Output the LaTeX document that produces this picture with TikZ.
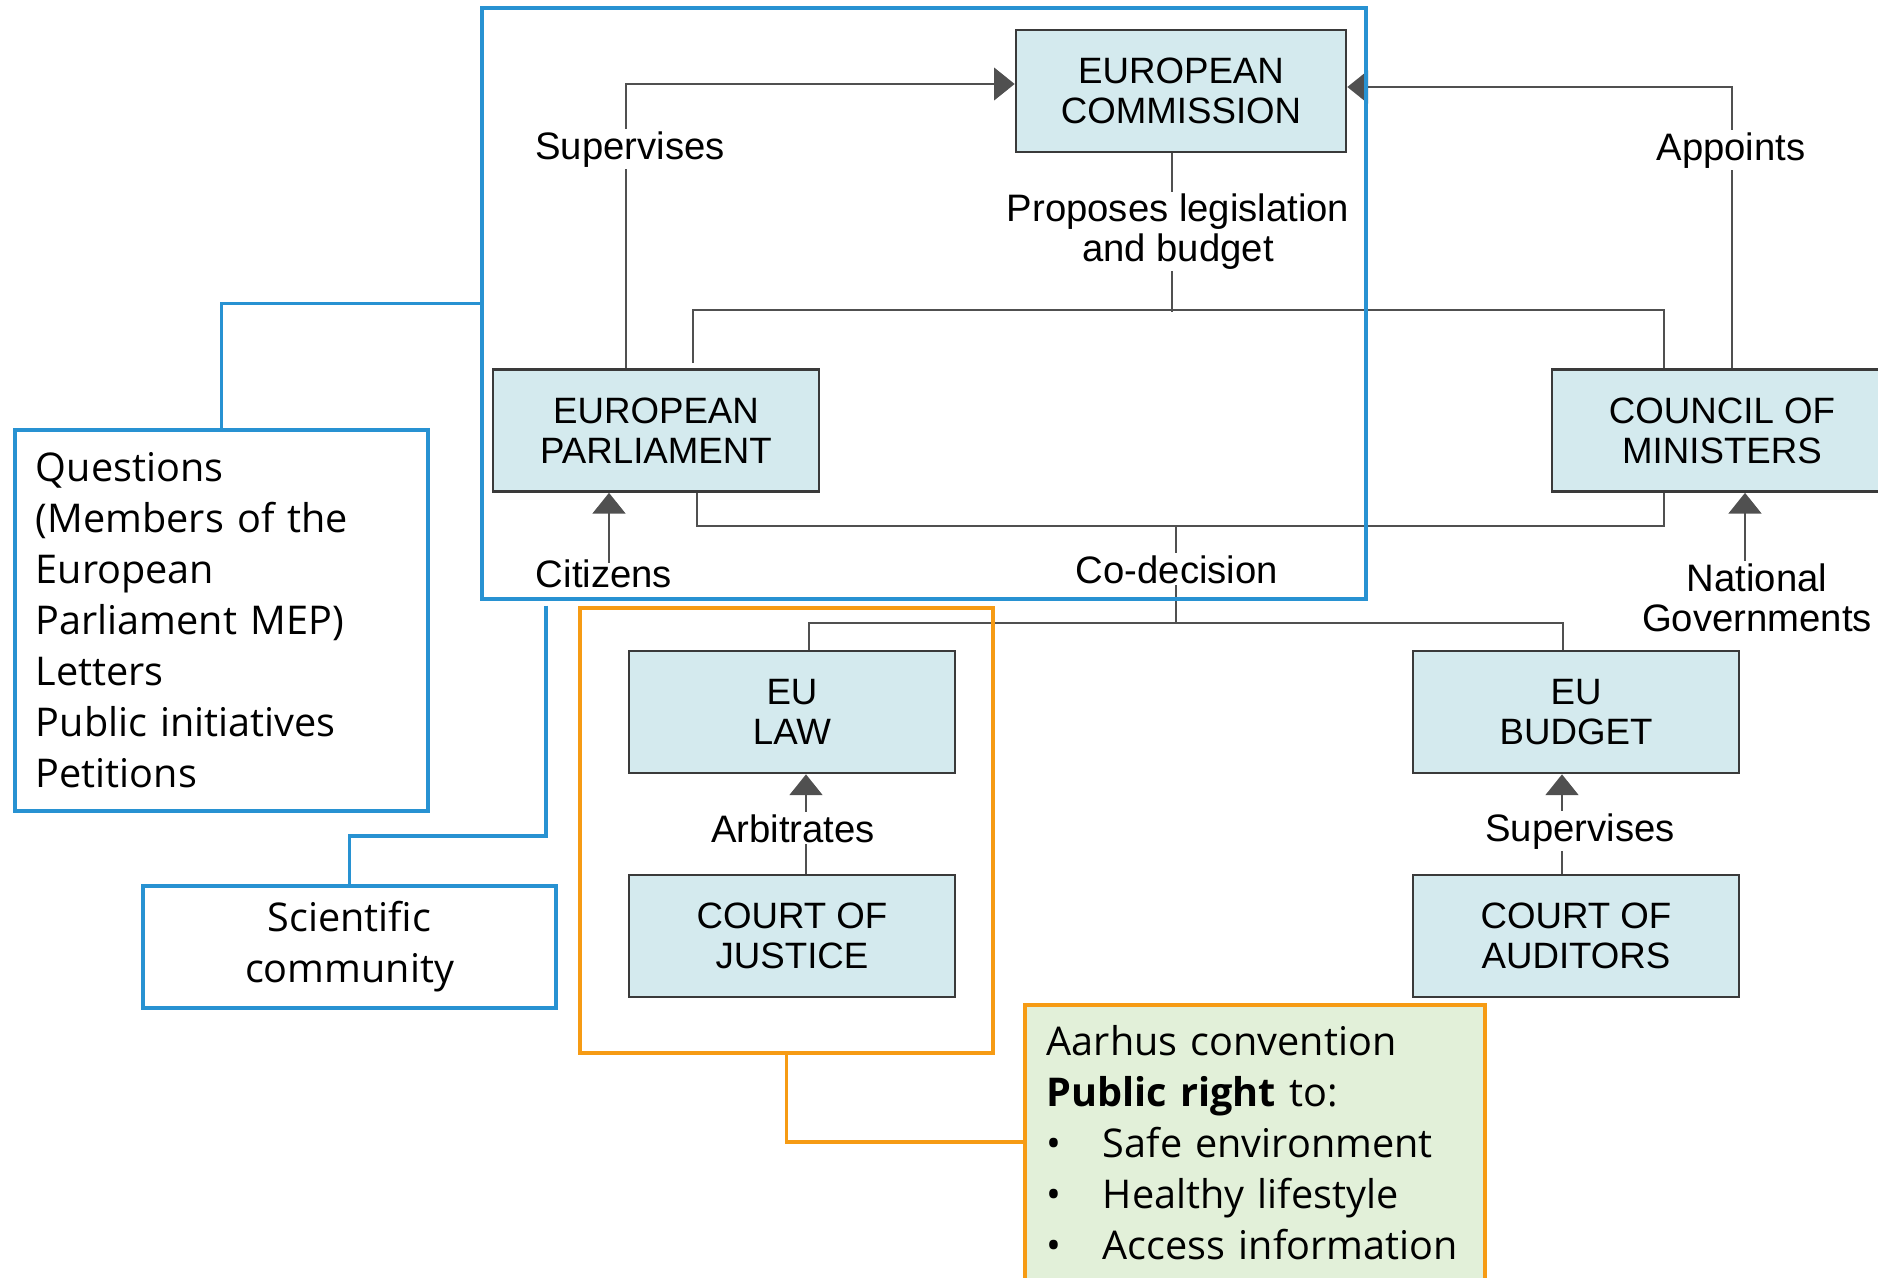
\documentclass[tikz,border=0pt]{standalone}
\usepackage{fontspec}
\setmainfont{Liberation Sans}
\newfontfamily\segoe{Open Sans}
\usetikzlibrary{arrows.meta,calc}
\definecolor{boxfill}{RGB}{212,234,238}
\definecolor{boxline}{RGB}{58,58,58}
\definecolor{gline}{RGB}{80,80,80}
\definecolor{eublue}{RGB}{40,146,210}
\definecolor{euorange}{RGB}{246,155,20}
\definecolor{aarhusfill}{RGB}{226,240,217}
\begin{document}
\begin{tikzpicture}[x=0.75pt,y=-0.75pt,
  inst/.style={draw=boxline, fill=boxfill, line width=2pt, inner sep=0pt,
    minimum width=244.5pt, minimum height=91.5pt, align=center,
    font=\fontsize{27.5}{30}\selectfont},
  lbl/.style={fill=white, inner sep=1.5pt, align=center,
    font=\fontsize{28.7}{29.3}\selectfont},
  conn/.style={draw=gline, line width=1.65pt},
  garrow/.style={conn, -{Triangle[length=15.5pt,width=24.5pt]}, color=gline},
  bluebox/.style={draw=eublue, line width=2.8pt},
  blueline/.style={draw=eublue, line width=2.8pt},
  orangeline/.style={draw=euorange, line width=2.8pt},
  sidetext/.style={font=\segoe\fontsize{29.7}{38.25}\selectfont}
]
\useasboundingbox (0,0) rectangle (1878,1278);

% institutions
\node[inst, minimum width=247.5pt] (ec) at (1181,91) {EUROPEAN\\COMMISSION};
\node[inst] (ep) at (656,430.5) {EUROPEAN\\PARLIAMENT};
\node[inst, minimum width=255pt] (com) at (1722,430.5) {COUNCIL OF\\MINISTERS};
\node[inst] (eulaw) at (792,712) {EU\\LAW};
\node[inst] (eubudget) at (1576,712) {EU\\BUDGET};
\node[inst] (coj) at (792,936) {COURT OF\\JUSTICE};
\node[inst] (coa) at (1576,936) {COURT OF\\AUDITORS};

% Supervises (EP -> EC)
\draw[garrow] ($(ep.north)+(-30,0)$) |- ([yshift=5.25pt]ec.west);
% Appoints (CoM -> EC)
\draw[garrow] ($(com.north)+(10,0)$) |- ([yshift=3pt]ec.east);
% Proposes legislation and budget
\draw[conn] ($(ec.south)+(-9,0)$) -- ++(0,159);
\draw[conn] ($(ep.north)+(37,-5)$) |- ($(com.north)+(-58,-58)$) -- ($(com.north)+(-58,0)$);
% Co-decision
\draw[conn] ($(ep.south)+(41,0)$) |- ($(com.south)+(-58,33)$) -- ($(com.south)+(-58,0)$);
\coordinate (cd) at (1176,525);
\draw[conn] (cd) -- ++(0,99);
\draw[conn] ($(eulaw.north)+(17,0)$) |- ($(eubudget.north)+(-13,-27)$) -- ($(eubudget.north)+(-13,0)$);
% Citizens, National Governments
\draw[garrow] ($(ep.south)+(-47,70)$) -- ($(ep.south)+(-47,0)$);
\draw[garrow] ($(com.south)+(23,68)$) -- ($(com.south)+(23,0)$);
% Arbitrates, Supervises
\draw[garrow] ($(coj.north)+(14,0)$) -- ($(eulaw.south)+(14,0)$);
\draw[garrow] ($(coa.north)+(-14,0)$) -- ($(eubudget.south)+(-14,0)$);

% labels
\node[lbl, anchor=base] (lsup) at (630,159) {Supervises};
\node[lbl, anchor=base] (lapp) at (1731,160) {Appoints};
\node[lbl, anchor=base] (lprop) at (1178,261) {Proposes legislation\\and budget};
\node[lbl, anchor=base] (lcod) at (1177,583) {Co-decision};
\node[lbl, anchor=base, fill=none] (lcit) at (604,587) {Citizens};
\node[lbl, anchor=base, fill=none] (lnat) at (1757,631) {National\\Governments};
\node[lbl, anchor=base] (larb) at (793,842) {Arbitrates};
\node[lbl, anchor=base] (lsup2) at (1580,841) {Supervises};

% blue / orange frames
\node[bluebox, anchor=north west, inner sep=0pt, minimum width=663pt, minimum height=443.25pt] (bluebox) at (480,6) {};
\node[draw=euorange, line width=2.8pt, anchor=north west, inner sep=0pt, minimum width=309.75pt, minimum height=333.75pt] (orangebox) at (578,606) {};

\node[bluebox, sidetext, anchor=north west, inner xsep=15.75pt, inner ysep=0pt, text width=278.25pt, minimum height=285.75pt, align=left] (questions) at (13,428)
  {Questions\\(Members of the\\European\\Parliament MEP)\\Letters\\Public initiatives\\Petitions};
\node[bluebox, sidetext, inner sep=0pt, minimum width=309.75pt, minimum height=91.5pt, align=center] (sci) at (349.5,947) {Scientific\\community};

\node[draw=euorange, fill=aarhusfill, line width=2.8pt, sidetext, anchor=north west, inner xsep=16.5pt, inner ysep=15.75pt, text width=312pt, align=left] (aarhus) at (1023,1003)
  {Aarhus convention\\\textbf{Public right} to:\\\makebox[42pt][l]{\textbullet}Safe environment\\\makebox[42pt][l]{\textbullet}Healthy lifestyle\\\makebox[42pt][l]{\textbullet}Access information};

% frame connectors
\draw[blueline] (bluebox.west) -| (questions.north);
\draw[blueline] ($(bluebox.south west)+(66,5)$) |- ($(sci.north)+(0,-48)$) -- (sci.north);
\draw[orangeline] (orangebox.south) |- ($(aarhus.north west)+(0,139)$);
\end{tikzpicture}
\end{document}
